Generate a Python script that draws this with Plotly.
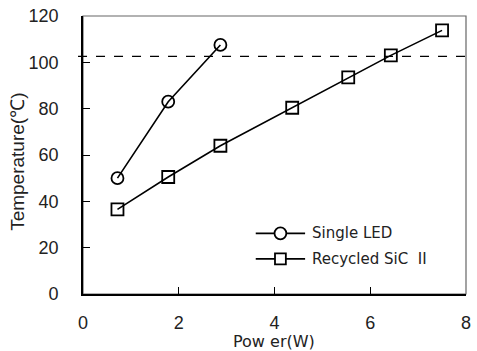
import plotly.graph_objects as go

single_x = [0.72, 1.78, 2.87]
single_y = [50.0, 83.0, 107.5]
recycled_x = [0.72, 1.78, 2.87, 4.37, 5.54, 6.43, 7.50]
recycled_y = [36.5, 50.5, 64.0, 80.4, 93.5, 103.0, 113.8]
threshold = 102.6
x_ticks = [0, 2, 4, 6, 8]
y_ticks = [0, 20, 40, 60, 80, 100, 120]
legend_names = ["Single LED", "Recycled SiC  II"]

LW = 1.6
fig = go.Figure()
fig.add_trace(go.Scatter(
    x=single_x, y=single_y, mode="lines+markers", name=legend_names[0],
    line=dict(color="black", width=LW),
    marker=dict(symbol="circle-open", size=12, color="black", line=dict(width=1.8)),
))
fig.add_trace(go.Scatter(
    x=recycled_x, y=recycled_y, mode="lines+markers", name=legend_names[1],
    line=dict(color="black", width=LW),
    marker=dict(symbol="square-open", size=12, color="black", line=dict(width=1.8)),
))

# frame (top/right lighter)
fig.add_shape(type="rect", xref="paper", yref="paper", x0=0, x1=1, y0=0, y1=1,
              line=dict(color="#666666", width=1.2), layer="below")
# dashed threshold
fig.add_shape(type="line", xref="paper", yref="y", x0=-0.013, x1=1.01,
              y0=threshold, y1=threshold,
              line=dict(color="black", width=1.2, dash="dash"))

# manual legend (wide line samples)
PW, PH = 388.0, 281.0
lx0, lx1, ltx = (258 - 83) / PW, (308 - 83) / PW, (313 - 83) / PW
lmx = (lx0 + lx1) / 2
rows = [(294 - 232.7) / PH, (294 - 258.5) / PH]
for i, (ry, nm) in enumerate(zip(rows, legend_names)):
    fig.add_shape(type="line", xref="paper", yref="paper", x0=lx0, x1=lx1,
                  y0=ry, y1=ry, line=dict(color="black", width=LW))
    if i == 0:
        r = 6.0
        fig.add_shape(type="circle", xref="paper", yref="paper",
                      x0=lmx - r / PW, x1=lmx + r / PW, y0=ry - r / PH, y1=ry + r / PH,
                      line=dict(color="black", width=1.8), fillcolor="white")
    else:
        r = 5.5
        fig.add_shape(type="rect", xref="paper", yref="paper",
                      x0=lmx - r / PW, x1=lmx + r / PW, y0=ry - r / PH, y1=ry + r / PH,
                      line=dict(color="black", width=1.8), fillcolor="white")
    fig.add_annotation(text=nm, xref="paper", yref="paper", x=ltx, y=ry,
                       xanchor="left", yanchor="middle", showarrow=False,
                       font=dict(family="DejaVu Sans", size=15, color="#222222"))

tickfont = dict(family="Liberation Sans, Arial", size=18, color="#222222")
fig.update_xaxes(range=[0, 8], tickvals=x_ticks, ticks="inside", ticklen=7,
                 tickcolor="black", showline=True, linecolor="black", linewidth=1.6,
                 showgrid=False, zeroline=False, tickfont=tickfont,
                 ticklabelstandoff=12)
fig.update_yaxes(range=[0, 120], tickvals=y_ticks, ticks="inside", ticklen=7,
                 tickcolor="black", showline=True, linecolor="black", linewidth=1.6,
                 showgrid=False, zeroline=False, tickfont=tickfont,
                 ticklabelstandoff=19)

fig.add_annotation(text="Temperature(℃)", xref="paper", yref="paper",
                   x=-0.170, y=0.475, textangle=-90, showarrow=False,
                   xanchor="center", yanchor="middle",
                   font=dict(family="Liberation Sans, Arial", size=19, color="#222222"))
fig.add_annotation(text="Pow er(W)", xref="paper", yref="paper",
                   x=0.499, y=-0.172, showarrow=False,
                   xanchor="center", yanchor="middle",
                   font=dict(family="DejaVu Sans", size=16, color="#222222"))

fig.update_layout(
    width=477, height=351,
    margin=dict(l=83, r=6, t=13, b=57),
    plot_bgcolor="white", paper_bgcolor="white",
    showlegend=False,
)

fig.write_html("out.html")
